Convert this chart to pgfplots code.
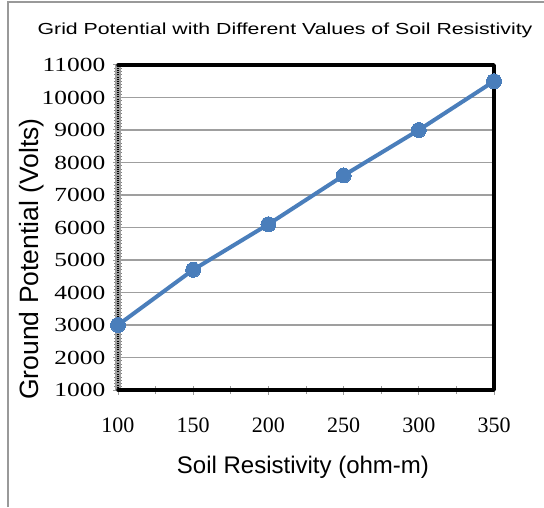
\documentclass[border=0pt]{standalone}
\usepackage{pgfplots}
\pgfplotsset{compat=1.18}
\usepackage{fontspec}
\setmainfont{Liberation Sans}
\newfontfamily\seriffont{Liberation Serif}
\definecolor{lineblue}{RGB}{74,126,187}
\begin{document}
\begin{tikzpicture}[x=1pt,y=1pt]
\useasboundingbox (0,0) rectangle (544,507);
\draw[gray!80, line width=1.5pt] (8,0) -- (8,505) -- (546,505);
\node[font=\fontsize{16}{16}\selectfont, xscale=1.33] at (285,477) {Grid Potential with Different Values of Soil Resistivity};
\node[font=\fontsize{24}{24}\selectfont] at (303,40) {Soil Resistivity (ohm-m)};
\node[font=\fontsize{26.5}{26.5}\selectfont, rotate=90] at (32,248) {Ground Potential (Volts)};
\begin{axis}[
  at={(118pt,117pt)}, anchor=south west,
  scale only axis, width=376pt, height=325pt,
  xmin=100, xmax=350, ymin=1000, ymax=11000,
  xtick={100,150,...,350}, ytick={1000,2000,...,11000},
  scaled y ticks=false, scaled x ticks=false,
  xtick pos=lower, ytick pos=left,
  minor x tick num=1, minor y tick num=9,
  axis line style={draw=none},
  ymajorgrids, major grid style={gray!75, line width=1.2pt},
  tick style={gray!80, line width=1pt},
  tick align=center, major tick length=9pt, minor tick length=8pt,
  minor y tick style={gray, line width=0.7pt},
  /pgf/number format/assume math mode=true,
  /pgf/number format/1000 sep={},
  xticklabel style={font=\seriffont\fontsize{22}{22}\selectfont, yshift=-20pt},
  yticklabel style={font=\seriffont\fontsize{20}{20}\selectfont, xscale=1.27, xshift=-3pt},
  clip=false,
]
\draw[gray!75, line width=6pt] (rel axis cs:0,0) -- (rel axis cs:0,1);
\draw[black, line width=1.2pt, dash pattern=on 1pt off 1.2pt] (rel axis cs:0,0) -- (rel axis cs:0,1);
\draw[black, line width=3.5pt, line cap=round, line join=round] (rel axis cs:0,0) -- (rel axis cs:1,0) -- (rel axis cs:1,1) -- (rel axis cs:0,1);
\addplot[lineblue, line width=4pt, mark=*, mark size=7.5pt, mark options={fill=lineblue, draw=lineblue, line width=0pt}]
  coordinates {(100,3000) (150,4700) (200,6100) (250,7600) (300,9000) (350,10500)};
\end{axis}
\end{tikzpicture}
\end{document}
